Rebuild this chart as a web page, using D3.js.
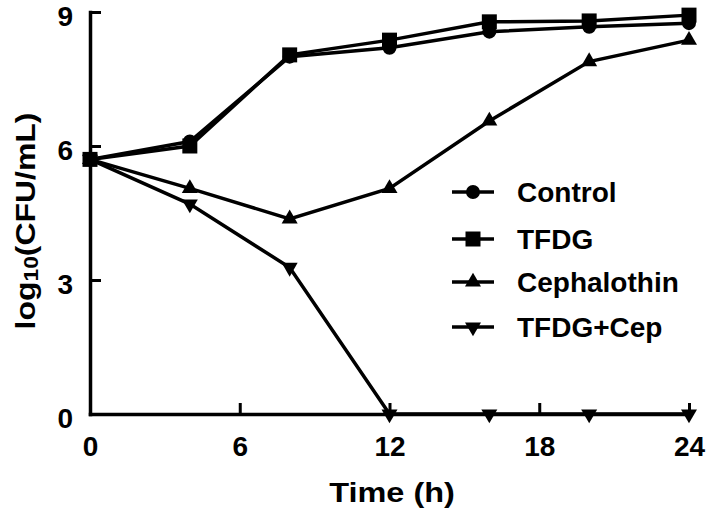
<!DOCTYPE html>
<html>
<head>
<meta charset="utf-8">
<script src="https://cdn.jsdelivr.net/npm/d3@7"></script>
<style>
  html, body { margin: 0; padding: 0; background: #fff; }
  svg { display: block; }
  text { font-family: "Liberation Sans", Arial, Helvetica, sans-serif; font-weight: bold; fill: #000; }
</style>
</head>
<body>
<svg id="chart" width="706" height="513"></svg>
<script>
// ---- data ----
const timePoints = [0, 4, 8, 12, 16, 20, 24];
const controlValues = [5.7, 6.1, 8.0, 8.2, 8.56, 8.67, 8.75];
const tfdgValues = [5.7, 6.0, 8.04, 8.37, 8.78, 8.8, 8.93];
const cephalothinValues = [5.7, 5.05, 4.37, 5.05, 6.56, 7.89, 8.37];
const comboValues = [5.7, 4.7, 3.28, 0, 0, 0, 0];
const seriesNames = ["Control", "TFDG", "Cephalothin", "TFDG+Cep"];
const xTicks = [0, 6, 12, 18, 24];
const yTicks = [0, 3, 6, 9];

// ---- layout ----
const W = 706, H = 513;
const margin = { left: 90, right: 17, top: 12, bottom: 99 };
const svg = d3.select("#chart");

const x = d3.scaleLinear().domain([0, 24]).range([margin.left, W - margin.right]);
const y = d3.scaleLinear().domain([0, 9]).range([H - margin.bottom, margin.top]);

const symbolTypes = {
  "Control": { type: d3.symbolCircle, size: 154, rot: 0 },
  "TFDG": { type: d3.symbolSquare, size: 225, rot: 0 },
  "Cephalothin": { type: d3.symbolTriangle, size: 111, rot: 0 },
  "TFDG+Cep": { type: d3.symbolTriangle, size: 111, rot: 180 }
};
const valuesByName = {
  "Control": controlValues,
  "TFDG": tfdgValues,
  "Cephalothin": cephalothinValues,
  "TFDG+Cep": comboValues
};

// ---- axes ----
const xAxis = d3.axisBottom(x).tickValues(xTicks).tickSizeInner(-11).tickSizeOuter(0).tickPadding(22);
const yAxis = d3.axisLeft(y).tickValues(yTicks).tickSizeInner(-11).tickSizeOuter(0).tickPadding(17);

const gx = svg.append("g").attr("transform", `translate(0,${y(0)})`).call(xAxis);
const gy = svg.append("g").attr("transform", `translate(${x(0)},0)`).call(yAxis);
[gx, gy].forEach(g => {
  g.select(".domain").attr("stroke", "#000").attr("stroke-width", 3.5).attr("stroke-linecap", "square");
  g.selectAll(".tick line").attr("stroke", "#000").attr("stroke-width", 3);
  g.selectAll(".tick text").style("font-size", "28px").style("font-family", "'Liberation Sans', Arial, sans-serif").style("font-weight", "bold").attr("fill", "#000");
});
gy.selectAll(".tick text").attr("dy", "0.47em");

// ---- series ----
const line = d3.line().x(d => x(d[0])).y(d => y(d[1]));
const drawOrder = ["Cephalothin", "TFDG+Cep", "Control", "TFDG"];
drawOrder.forEach(name => {
  const pts = timePoints.map((t, i) => [t, valuesByName[name][i]]);
  svg.append("path").datum(pts)
    .attr("d", line).attr("fill", "none").attr("stroke", "#000").attr("stroke-width", 3.5);
  const s = symbolTypes[name];
  svg.append("g").selectAll("path").data(pts).join("path")
    .attr("d", d3.symbol().type(s.type).size(s.size))
    .attr("transform", d => `translate(${x(d[0])},${y(d[1])}) rotate(${s.rot})`)
    .attr("fill", "#000");
});

// ---- legend ----
const legend = svg.append("g");
const legendRows = [192, 239, 282, 327];
seriesNames.forEach((name, i) => {
  const ry = legendRows[i];
  legend.append("line").attr("x1", 452).attr("x2", 494).attr("y1", ry).attr("y2", ry)
    .attr("stroke", "#000").attr("stroke-width", 3.5);
  const s = symbolTypes[name];
  legend.append("path").attr("d", d3.symbol().type(s.type).size(s.size))
    .attr("transform", `translate(473,${ry}) rotate(${s.rot})`).attr("fill", "#000");
  legend.append("text").attr("x", 517).attr("y", ry + 10).style("font-size", "28px").text(name);
});

// ---- axis titles ----
svg.append("text")
  .attr("transform", "translate(392,502) scale(1.16,1)")
  .attr("text-anchor", "middle").style("font-size", "28px").text("Time (h)");

const yt = svg.append("text")
  .attr("transform", "translate(35,221) rotate(-90) scale(1.14,1)")
  .attr("text-anchor", "middle").style("font-size", "28px");
yt.append("tspan").text("log");
yt.append("tspan").attr("dy", 3).style("font-size", "20px").text("10");
yt.append("tspan").attr("dy", -3).text("(CFU/mL)");
</script>
</body>
</html>
